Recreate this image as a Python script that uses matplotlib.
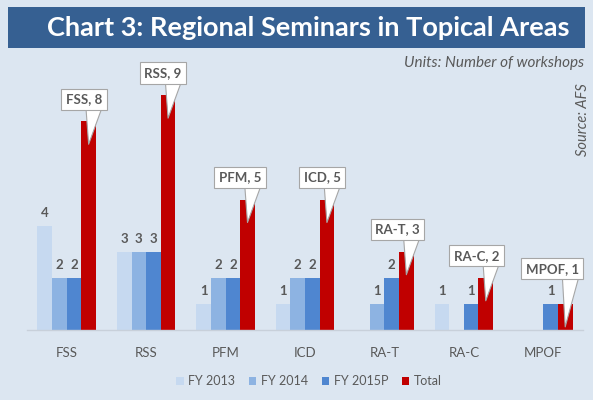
import numpy as np
import matplotlib.pyplot as plt
from matplotlib.patches import Rectangle

categories = ['FSS', 'RSS', 'PFM', 'ICD', 'RA-T', 'RA-C', 'MPOF']
fy2013 = [4, 3, 1, 1, 0, 1, 0]
fy2014 = [2, 3, 2, 2, 1, 0, 0]
fy2015p = [2, 3, 2, 2, 2, 1, 1]
total = [8, 9, 5, 5, 3, 2, 1]

series_names = ['FY 2013', 'FY 2014', 'FY 2015P', 'Total']
colors = ['#c6d9f0', '#8db3e2', '#4f86d0', '#c00000']

FONT = 'Lato'
GREY = '#595959'
BG = '#dce6f1'

fig = plt.figure(figsize=(5.93, 4.0), dpi=100)
fig.patch.set_facecolor(BG)

# title banner
fig.patches.append(Rectangle((8 / 593, 1 - 48 / 400), 577 / 593, 41 / 400,
                             transform=fig.transFigure, facecolor='#366092',
                             edgecolor='none', zorder=0))
fig.text(308 / 593, 1 - 28 / 400, 'Chart 3: Regional Seminars in Topical Areas',
         color='white', fontsize=19.5, fontweight='bold', family=FONT,
         ha='center', va='center')

ax = fig.add_axes([27 / 593, 70 / 400, 556 / 593, 270 / 400])
ax.set_facecolor('none')

x = np.arange(len(categories))
w = 0.184
all_series = [fy2013, fy2014, fy2015p, total]
for i, (vals, c, name) in enumerate(zip(all_series, colors, series_names)):
    pos = x + (i - 1.5) * w
    ax.bar(pos, vals, width=w, color=c, label=name, zorder=2)
    if name == 'Total':
        for j, (p, v, cat) in enumerate(zip(pos, vals, categories)):
            # last callout sits higher so the "1" of FY 2015P stays visible
            lift = 1.35 if j == len(vals) - 1 else 0.85
            ax.text(p + 0.17, v + lift, f'{cat}, {v}', ha='right', va='center',
                    fontsize=9.5, fontweight='bold', color=GREY, family=FONT,
                    bbox=dict(boxstyle='square,pad=0.35', fc='white',
                              ec='#a6a6a6', lw=0.8),
                    zorder=5)
            # callout pointer
            ax.annotate('', xy=(p, v - 0.88), xytext=(p + 0.07, v + lift - 0.2),
                        textcoords='data',
                        arrowprops=dict(arrowstyle='wedge,tail_width=1.25,shrink_factor=0.5',
                                        fc='white', ec='#a6a6a6', lw=0.8,
                                        shrinkA=0, shrinkB=0),
                        zorder=4)
    else:
        for p, v in zip(pos, vals):
            if v > 0:
                ax.text(p, v + 0.25, str(v), ha='center', va='bottom',
                        fontsize=9.5, fontweight='bold', color=GREY,
                        family=FONT, zorder=3)

ax.set_xlim(-0.5, 6.5)
ax.set_ylim(0, 10.35)
ax.set_yticks([])
ax.set_xticks(x)
ax.set_xticklabels(categories, fontsize=9.5, color=GREY, family=FONT)
ax.tick_params(axis='x', length=0, pad=12)
for s in ['top', 'right', 'left']:
    ax.spines[s].set_visible(False)
ax.spines['bottom'].set_color('#c8d0da')
ax.spines['bottom'].set_linewidth(1)

leg = fig.legend(loc='center', bbox_to_anchor=(309 / 593, 1 - 381 / 400),
                 ncol=4, frameon=False, handlelength=0.6,
                 handleheight=0.6, handletextpad=0.35, columnspacing=1.1,
                 prop={'family': FONT, 'size': 9})
for t in leg.get_texts():
    t.set_color(GREY)

fig.text(584 / 593, 1 - 63 / 400, 'Units: Number of workshops', ha='right',
         va='center', fontsize=11, style='italic', color=GREY, family=FONT)
fig.text(583 / 593, 1 - 120 / 400, 'Source: AFS', ha='center', va='center',
         rotation=90, fontsize=10.5, style='italic', color=GREY, family=FONT)

fig.savefig('out.png', dpi=100, facecolor=BG)
